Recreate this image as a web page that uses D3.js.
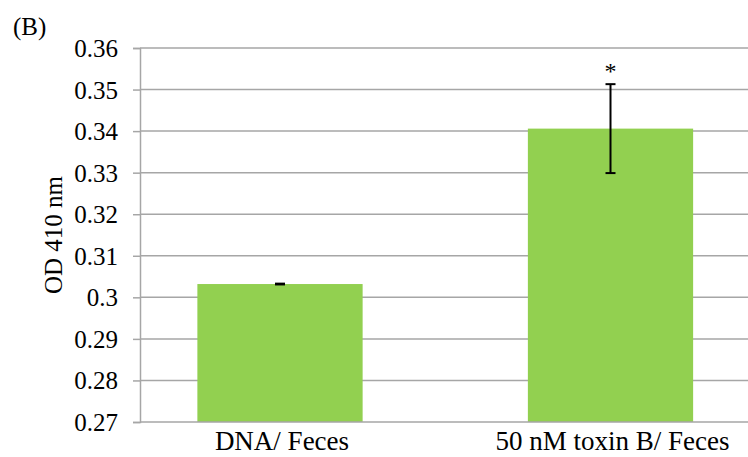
<!DOCTYPE html>
<html>
<head>
<meta charset="utf-8">
<script src="https://cdn.jsdelivr.net/npm/d3@7/dist/d3.min.js"></script>
<style>
  html, body { margin: 0; padding: 0; background: #fff; }
  svg text { font-family: "Liberation Serif", "Times New Roman", serif; fill: #000; }
</style>
</head>
<body>
<svg id="chart" width="748" height="457"></svg>
<script>
// Data
const categories = ["DNA/ Feces", "50 nM toxin B/ Feces"];
const means = [0.3032, 0.3406];
const errors = [0.0001, 0.0107];
const significance = ["", "*"];
const yTicks = [0.27, 0.28, 0.29, 0.30, 0.31, 0.32, 0.33, 0.34, 0.35, 0.36];
const yTickLabels = ["0.27", "0.28", "0.29", "0.3", "0.31", "0.32", "0.33", "0.34", "0.35", "0.36"];

const svg = d3.select("#chart");
const plot = { left: 140, right: 748, top: 48, bottom: 422 };

const y = d3.scaleLinear().domain([0.27, 0.36]).range([plot.bottom, plot.top]);
const x = d3.scaleBand()
  .domain(categories)
  .range([114.75, 775.75])
  .paddingInner(0.5)
  .paddingOuter(0.25);

// Horizontal gridlines
svg.append("g")
  .selectAll("line")
  .data(yTicks.slice(1))
  .join("line")
  .attr("x1", plot.left).attr("x2", plot.right)
  .attr("y1", d => y(d)).attr("y2", d => y(d))
  .attr("stroke", "#a6a6a6").attr("stroke-width", 1.5);

// Y axis
const yAxis = d3.axisLeft(y)
  .tickValues(yTicks)
  .tickFormat((d, i) => yTickLabels[i])
  .tickSize(7)
  .tickPadding(15);
const gy = svg.append("g").attr("transform", `translate(${plot.left},0)`).call(yAxis);
gy.select(".domain").attr("stroke", "#a6a6a6").attr("stroke-width", 1.5);
gy.selectAll(".tick line").attr("stroke", "#a6a6a6").attr("stroke-width", 1.5);
gy.selectAll(".tick text")
  .attr("font-size", 25)
  .attr("font-family", "Liberation Serif")
  .attr("fill", "#000")
  .attr("dy", "0.34em");

// Bars
svg.append("g")
  .selectAll("rect")
  .data(categories)
  .join("rect")
  .attr("x", d => x(d))
  .attr("width", x.bandwidth())
  .attr("y", (d, i) => y(means[i]))
  .attr("height", (d, i) => y(0.27) - y(means[i]))
  .attr("fill", "#92d050");

// X axis baseline
svg.append("line")
  .attr("x1", plot.left).attr("x2", plot.right)
  .attr("y1", y(0.27)).attr("y2", y(0.27))
  .attr("stroke", "#a6a6a6").attr("stroke-width", 1.5);

// Error bars
const eb = svg.append("g").attr("stroke", "#000").attr("stroke-width", 2);
categories.forEach((c, i) => {
  const cx = x(c) + x.bandwidth() / 2;
  const hi = y(means[i] + errors[i]), lo = y(means[i] - errors[i]);
  eb.append("line").attr("x1", cx).attr("x2", cx).attr("y1", hi).attr("y2", lo);
  eb.append("line").attr("x1", cx - 5).attr("x2", cx + 5).attr("y1", hi).attr("y2", hi);
  eb.append("line").attr("x1", cx - 5).attr("x2", cx + 5).attr("y1", lo).attr("y2", lo);
  if (significance[i]) {
    svg.append("text")
      .attr("x", cx).attr("y", hi - 5)
      .attr("text-anchor", "middle")
      .attr("font-size", 24)
      .attr("fill", "#333")
      .text(significance[i]);
  }
});

// Category labels
svg.append("g")
  .selectAll("text")
  .data(categories)
  .join("text")
  .attr("x", d => x(d) + x.bandwidth() / 2 + 2)
  .attr("y", 450)
  .attr("text-anchor", "middle")
  .attr("font-size", 27)
  .text(d => d);

// Y axis title
svg.append("text")
  .attr("transform", `translate(62,${(plot.top + plot.bottom) / 2}) rotate(-90)`)
  .attr("text-anchor", "middle")
  .attr("font-size", 25)
  .text("OD 410 nm");

// Panel letter
svg.append("text")
  .attr("x", 13).attr("y", 35)
  .attr("font-size", 25)
  .text("(B)");
</script>
</body>
</html>
